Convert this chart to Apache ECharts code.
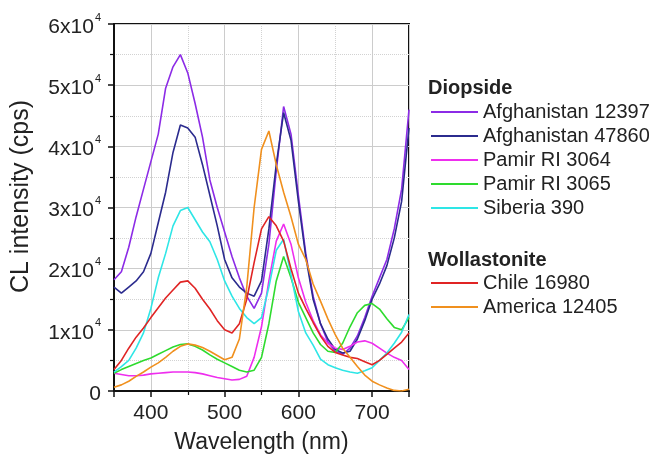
<!DOCTYPE html>
<html>
<head>
<meta charset="utf-8">
<script src="https://cdn.jsdelivr.net/npm/echarts@6/dist/echarts.min.js"></script>
<style>
  html, body { margin: 0; padding: 0; background: #fff; }
  #chart { width: 649px; height: 459px; }
</style>
</head>
<body>
<div id="chart"></div>
<script>
// wavelength (nm)
var wavelengths = [350, 360, 370, 380, 390, 400, 410, 420, 430, 440, 450, 460, 470, 480, 490, 500, 510, 520, 530, 540,
  550, 560, 570, 580, 590, 600, 610, 620, 630, 640, 650, 660, 670, 680, 690, 700, 710, 720, 730, 740, 750]

// CL intensity, thousands of cps
var afg12397 = [18.2, 19.5, 23.5, 28.5, 33, 37.5, 42, 49.5, 53, 55, 52, 47, 41.5, 34.5, 30, 26, 22, 18.5, 15.5, 13.5,
  16, 24, 36, 46.5, 42, 32, 22.5, 15.5, 11, 8, 6.5, 6, 7, 9, 12, 15.5, 18.5, 21.5, 26.5, 33, 46]
var afg47860 = [17, 16, 17, 18, 19.5, 22.5, 27.5, 32.5, 39, 43.5, 43, 41.5, 37, 32, 27, 21.5, 18.5, 17, 16, 15.5,
  18, 26.5, 37, 45.5, 41, 31, 22, 15, 11, 8.5, 6.8, 6.2, 6.5, 8.5, 11.5, 15, 17.5, 20.5, 25, 31, 43]
var pamir3064 = [2.9, 2.7, 2.5, 2.5, 2.6, 2.8, 2.9, 3, 3.1, 3.1, 3.1, 3, 2.8, 2.5, 2.2, 2, 1.8, 1.9, 2.4, 5.5,
  10.5, 18, 24.5, 27.3, 24, 18.5, 14.5, 11.5, 9.2, 7.8, 7, 6.8, 7.3, 8, 8.2, 7.8, 7, 6.2, 5.5, 5, 3.5]
var pamir3065 = [2.9, 3.5, 4, 4.5, 5, 5.4, 6, 6.6, 7.2, 7.6, 7.7, 7.3, 6.7, 5.9, 5.2, 4.6, 4, 3.4, 3.1, 3.4,
  5.5, 11, 18, 22, 18.5, 14.5, 12, 9.5, 7.6, 6.5, 6.3, 7.8, 10.5, 12.8, 14, 14.3, 13.4, 11.8, 10.4, 10, 12]
var siberia390 = [3.1, 4, 5, 7, 9.5, 13.5, 18.5, 22.5, 27, 29.5, 30, 28, 26, 24.4, 21.5, 18, 15.5, 13.5, 12, 11,
  12, 17, 23, 24.8, 19, 13, 9.5, 7.5, 5.2, 4.3, 3.8, 3.4, 3.1, 2.9, 3.3, 3.8, 5, 6.2, 7.8, 9.6, 12.5]
var chile16980 = [3.5, 5, 7, 8.8, 10.3, 12, 13.6, 15.2, 16.5, 17.8, 18, 16.8, 15, 13.4, 11.5, 10, 9.5, 11, 15, 21,
  26.5, 28.5, 27, 24.5, 20, 16, 13.5, 11.2, 9, 7.3, 6.3, 5.9, 5.5, 5.3, 4.8, 4.3, 5, 6, 7, 8, 9.5]
var america12405 = [0.6, 1, 1.6, 2.4, 3.1, 3.9, 4.6, 5.5, 6.5, 7.3, 7.7, 7.5, 7.1, 6.5, 5.8, 5.1, 5.5, 8.5, 17, 30,
  39.5, 42.5, 37, 32.5, 28.5, 24, 21.5, 17.5, 14.7, 11.8, 9.2, 7, 5.5, 4, 2.6, 1.6, 1, 0.5, 0.1, 0, 0.3]

var diopsideNames = ['Afghanistan 12397', 'Afghanistan 47860', 'Pamir RI 3064', 'Pamir RI 3065', 'Siberia 390']
var wollastoniteNames = ['Chile 16980', 'America 12405']
var seriesValues = [afg12397, afg47860, pamir3064, pamir3065, siberia390, chile16980, america12405]
var seriesColors = ['#8C2BE6', '#2B2B8E', '#EE2EEE', '#2EDB2E', '#2EE6E6', '#E02424', '#F0901E']

var font = 'Liberation Sans, Arial, sans-serif'

function pairs(values) {
  var out = []
  wavelengths.forEach(function (w, i) {
    out.push([w, values[i]])
  })
  return out
}

var allNames = diopsideNames.concat(wollastoniteNames)
var series = allNames.map(function (name, i) {
  return {
    name: name,
    type: 'line',
    data: pairs(seriesValues[i]),
    symbol: 'none',
    color: seriesColors[i],
    lineStyle: { width: 1.6 }
  }
})

var chart = echarts.init(document.getElementById('chart'))
var legendBase = {
  orient: 'vertical',
  left: 430,
  padding: 0,
  itemWidth: 47,
  itemHeight: 14,
  itemGap: 4,
  selectedMode: false,
  itemStyle: { opacity: 0 },
  textStyle: { fontFamily: font, fontSize: 20, color: '#222' }
}

var option = {
  animation: false,
  backgroundColor: '#fff',
  grid: {
    left: 114, right: 240, top: 24, bottom: 63,
    show: true, borderColor: '#111', borderWidth: 2
  },
  legend: [
    Object.assign({}, legendBase, { top: 102, data: diopsideNames }),
    Object.assign({}, legendBase, { top: 273, data: wollastoniteNames })
  ],
  graphic: [
    { type: 'text', left: 428, top: 78, style: { text: 'Diopside', font: 'bold 20px ' + font, fill: '#222' } },
    { type: 'text', left: 428, top: 250, style: { text: 'Wollastonite', font: 'bold 20px ' + font, fill: '#222' } }
  ],
  xAxis: {
    type: 'value',
    min: 350,
    max: 750,
    splitNumber: 4,
    name: 'Wavelength (nm)',
    nameLocation: 'middle',
    nameGap: 40,
    nameTextStyle: { fontFamily: font, fontSize: 23, color: '#222' },
    axisLine: { show: true, lineStyle: { color: '#111', width: 2 } },
    axisTick: { show: true, length: 6, lineStyle: { color: '#111', width: 1.5 } },
    minorTick: { show: true, splitNumber: 2, length: 4, lineStyle: { color: '#111', width: 1.2 } },
    splitLine: { show: true, lineStyle: { color: '#cccccc', width: 1 } },
    minorSplitLine: { show: true, lineStyle: { color: '#d2d2d2', width: 1, type: 'dotted' } },
    axisLabel: { fontFamily: font, fontSize: 21, color: '#222', margin: 12, showMinLabel: false, showMaxLabel: false }
  },
  yAxis: {
    type: 'value',
    min: 0,
    max: 60,
    interval: 10,
    name: 'CL intensity (cps)',
    nameLocation: 'middle',
    nameGap: 80,
    nameTextStyle: { fontFamily: font, fontSize: 25, color: '#222', padding: [0, 0, 0, 22] },
    axisLine: { show: true, lineStyle: { color: '#111', width: 2 } },
    axisTick: { show: true, length: 6, lineStyle: { color: '#111', width: 1.5 } },
    minorTick: { show: true, splitNumber: 2, length: 4, lineStyle: { color: '#111', width: 1.2 } },
    splitLine: { show: true, lineStyle: { color: '#cccccc', width: 1 } },
    minorSplitLine: { show: true, lineStyle: { color: '#d2d2d2', width: 1, type: 'dotted' } },
    axisLabel: {
      margin: 13,
      formatter: function (v) {
        if (v === 0) return '{a|0}'
        return '{a|' + (v / 10) + 'x10}{s|4}'
      },
      rich: {
        a: { fontFamily: font, fontSize: 21, color: '#222', lineHeight: 24, padding: [6, 0, 0, 0] },
        s: { fontFamily: font, fontSize: 11, color: '#222', lineHeight: 24, verticalAlign: 'top', padding: [0, 0, 8, 1] }
      }
    }
  },
  series: series
}

chart.setOption(option)
</script>
</body>
</html>
